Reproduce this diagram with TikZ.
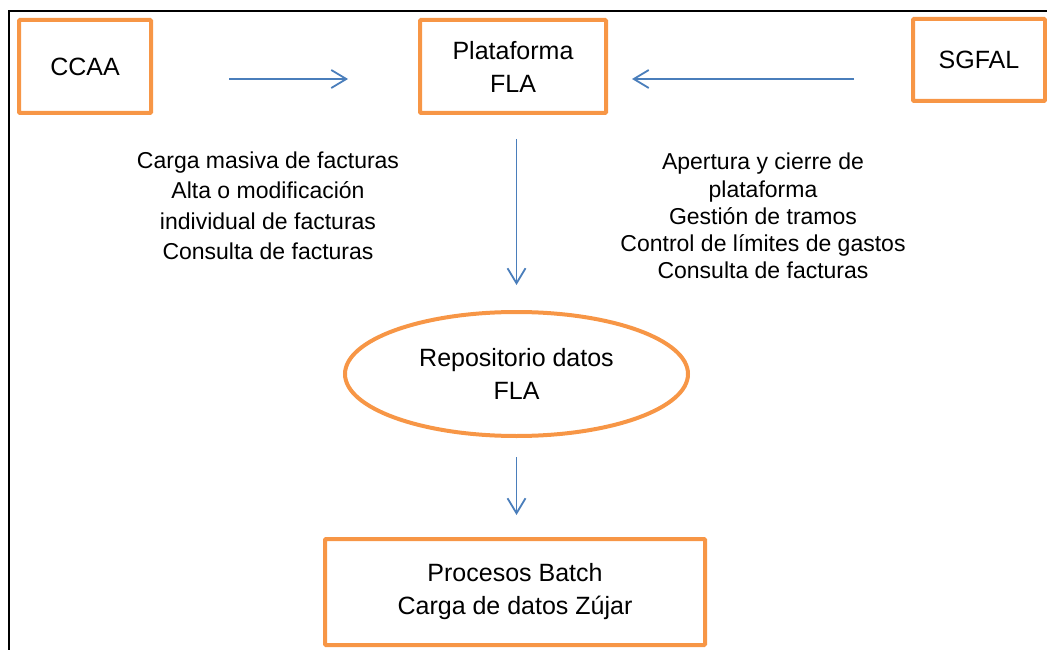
\documentclass[tikz,border=0pt]{standalone}
\usepackage{fontspec}
\setmainfont{Liberation Sans}
\usetikzlibrary{arrows.meta,shapes.geometric}
\definecolor{naranja}{HTML}{F79646}
\definecolor{azul}{HTML}{4A7EBB}

\begin{document}
\begin{tikzpicture}[x=1pt, y=-1pt,
    caja/.style={draw=naranja, line width=4pt, rounded corners=1pt, align=center,
      inner sep=0pt, font=\fontsize{25}{33}\selectfont},
    flecha/.style={draw=azul, line width=1.8pt, -{Straight Barb[length=15pt,width=18pt]}},
    texto/.style={align=center, font=\fontsize{23}{30.5}\selectfont}]
  \useasboundingbox (0,0) rectangle (1047,650);
  \draw[line width=2pt] (9,650) -- (9,11) -- (1047,11);

  \node[caja, minimum width=132, minimum height=93] (CCAA) at (85,66.5) {CCAA};
  \node[caja, minimum width=186, minimum height=93] (plat) at (513,66.5) {Plataforma\\FLA};
  \node[caja, minimum width=132, minimum height=82] (SGFAL) at (979,60) {SGFAL};

  \node[caja, ellipse, rounded corners=0pt, minimum width=343, minimum height=124]
    (repo) at (516.5,374) {Repositorio datos\\FLA};
  \node[caja, minimum width=380, minimum height=106] (batch) at (515,592)
    {Procesos Batch\\Carga de datos Zújar};

  \node[texto] (cargas) at (268,206)
    {Carga masiva de facturas\\Alta o modificación\\individual de facturas\\Consulta de facturas};
  \node[texto, font=\fontsize{23}{27.2}\selectfont] (gestion) at (763,216)
    {Apertura y cierre de\\plataforma\\Gestión de tramos\\Control de límites de gastos\\Consulta de facturas};

  \draw[flecha, shorten <=76pt, shorten >=70pt] ([yshift=-12.5pt]CCAA.east) -- ([yshift=-12.5pt]plat.west);
  \draw[flecha, shorten <=57pt, shorten >=24pt] ([yshift=-19pt]SGFAL.west) -- ([yshift=-12.5pt]plat.east);
  \draw[flecha, shorten <=24pt, shorten >=25pt] (plat.south -| repo.north) -- (repo.north);
  \draw[flecha, shorten <=19pt, shorten >=22pt] (repo.south) -- (repo.south |- batch.north);
\end{tikzpicture}
\end{document}
